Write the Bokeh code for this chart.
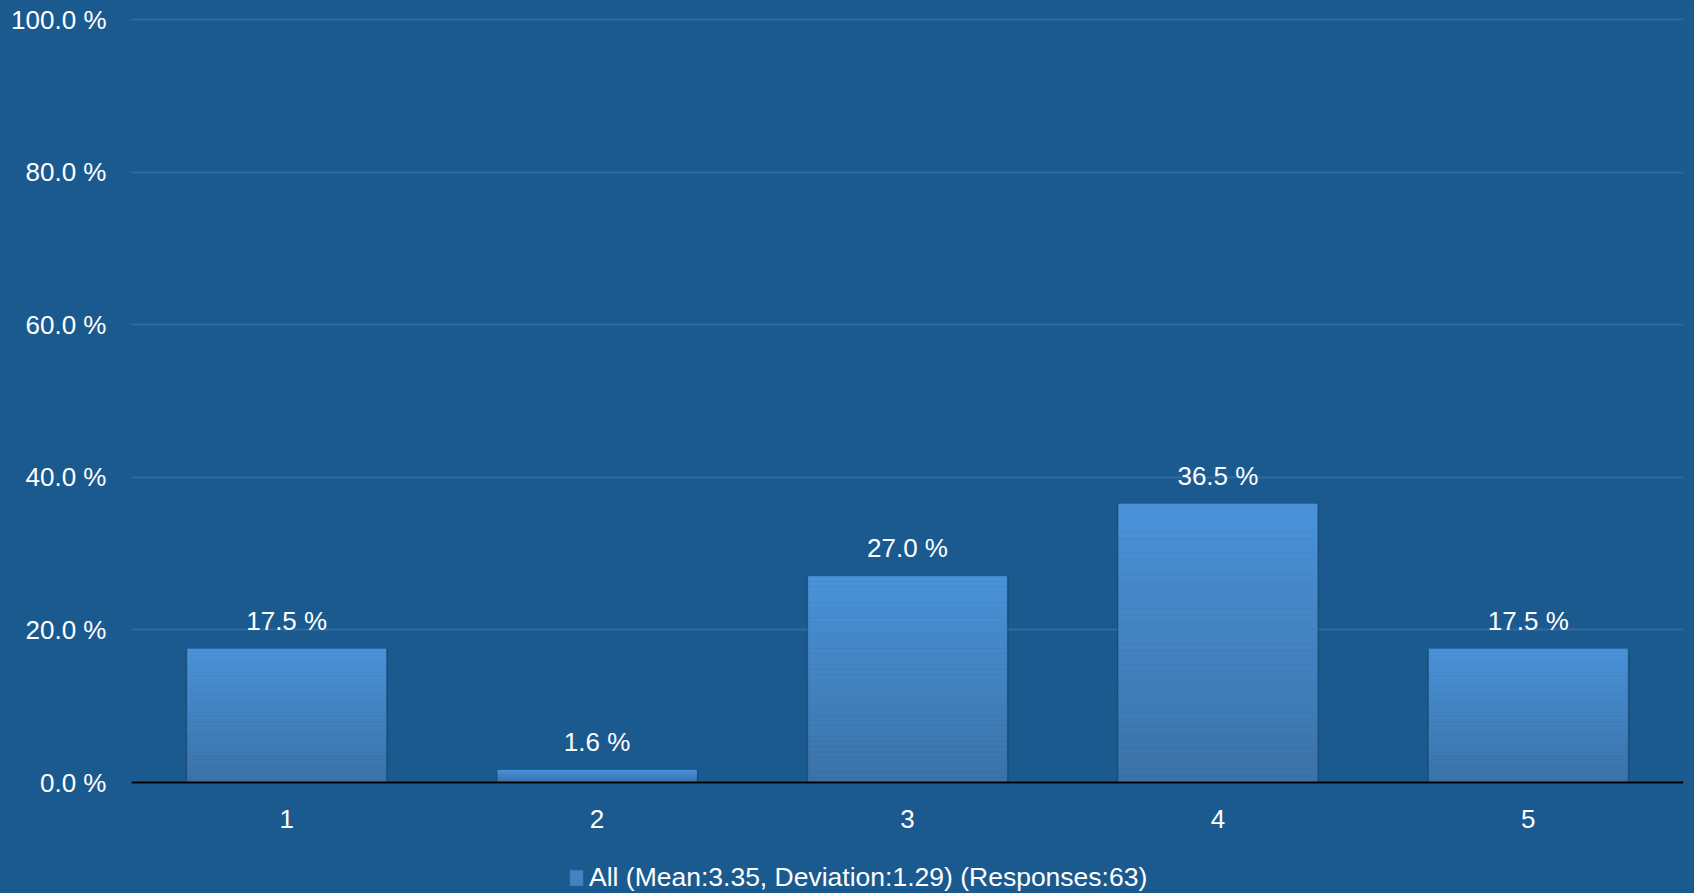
from bokeh.plotting import figure
from bokeh.models import (ColumnDataSource, FactorRange, FixedTicker, PrintfTickFormatter,
                          Legend, LegendItem, Range1d)
from bokeh.core.properties import value
from bokeh.embed import file_html
from bokeh.resources import INLINE

# ---- data ----
categories = ["1", "2", "3", "4", "5"]
percentages = [17.5, 1.6, 27.0, 36.5, 17.5]
y_ticks = [0, 20, 40, 60, 80, 100]
legend_label = "All (Mean:3.35, Deviation:1.29) (Responses:63)"

# ---- style / layout ----
W, H = 1694, 893
CANVAS_TOP = 10         # top edge of the plotting frame
TOP_PX = 19             # pixel row of 100 %
ZERO_PX = 782           # pixel row of 0 %
BG = "#1b5a8f"
GRID = "#2e6aa1"
TOP = (74, 146, 216)
BOTTOM = (59, 115, 168)
FONT = "Liberation Sans"
N_SLICES = 40
BAR_W = 0.64

# the frame runs to the bottom of the canvas so the legend below the axis is not clipped
ppu = (ZERO_PX - TOP_PX) / 100.0
y_start = -(H - ZERO_PX) / ppu
y_end = 100 + (TOP_PX - CANVAS_TOP) / ppu

p = figure(width=W, height=H, x_range=FactorRange(*categories, range_padding=0),
           y_range=Range1d(y_start, y_end), output_backend="svg", toolbar_location=None,
           min_border_left=131, min_border_right=11, min_border_top=CANVAS_TOP,
           min_border_bottom=0)
p.background_fill_color = BG
p.border_fill_color = BG
p.outline_line_color = None
p.styles = {"background-color": BG}

# shadow
p.vbar(x=categories, top=percentages, width=BAR_W + 0.012, bottom=0,
       fill_color="black", fill_alpha=0.13, line_color=None)

# gradient bars, built as stacked slices of each bar
xs, bots, tops, cols = [], [], [], []
for c, v in zip(categories, percentages):
    for k in range(N_SLICES):
        t = k / (N_SLICES - 1)
        r = round(BOTTOM[0] + (TOP[0] - BOTTOM[0]) * t)
        g = round(BOTTOM[1] + (TOP[1] - BOTTOM[1]) * t)
        b = round(BOTTOM[2] + (TOP[2] - BOTTOM[2]) * t)
        xs.append(c)
        bots.append(v * k / N_SLICES)
        tops.append(v * (k + 1) / N_SLICES)
        cols.append("#%02x%02x%02x" % (r, g, b))
src = ColumnDataSource(dict(x=xs, bottom=bots, top=tops, color=cols))
bars = p.vbar(x="x", bottom="bottom", top="top", width=BAR_W, source=src,
              fill_color="color", line_color="color", line_width=0.6)

# value labels
lab_src = ColumnDataSource(dict(x=categories, y=percentages,
                                t=["%.1f %%" % v for v in percentages]))
p.text(x="x", y="y", text="t", source=lab_src, text_color="white",
       text_font=value(FONT), text_font_size="26px", text_align="center",
       text_baseline="alphabetic", y_offset=-28)

# axes
p.yaxis.ticker = FixedTicker(ticks=y_ticks)
p.yaxis.formatter = PrintfTickFormatter(format="%.1f %%")
p.yaxis.axis_line_color = None
p.yaxis.major_tick_line_color = None
p.yaxis.minor_tick_line_color = None
p.yaxis.major_label_standoff = 19
p.yaxis.major_label_text_color = "white"
p.yaxis.major_label_text_font = FONT
p.yaxis.major_label_text_font_size = "26px"

p.xaxis.fixed_location = 0
p.xaxis.axis_line_color = "black"
p.xaxis.axis_line_width = 2
p.xaxis.major_tick_line_color = None
p.xaxis.minor_tick_line_color = None
p.xaxis.major_label_standoff = 21
p.xaxis.major_label_text_color = "white"
p.xaxis.major_label_text_font = FONT
p.xaxis.major_label_text_font_size = "26px"

p.xgrid.grid_line_color = None
p.ygrid.grid_line_color = GRID
p.ygrid.grid_line_width = 2

# legend
legend = Legend(items=[LegendItem(label=legend_label, renderers=[bars], index=N_SLICES // 2)],
                location=(437, 0), orientation="horizontal",
                background_fill_alpha=0, border_line_color=None,
                label_text_color="white", label_text_font=FONT, label_text_font_size="26.5px",
                glyph_width=16, glyph_height=19, label_height=30, label_standoff=5,
                padding=0, margin=0, spacing=0)
p.add_layout(legend, "center")

html = file_html(p, INLINE)
html = html.replace("<body>", '<body style="margin:0;background:%s">' % BG, 1)
open("out.html", "w").write(html)
